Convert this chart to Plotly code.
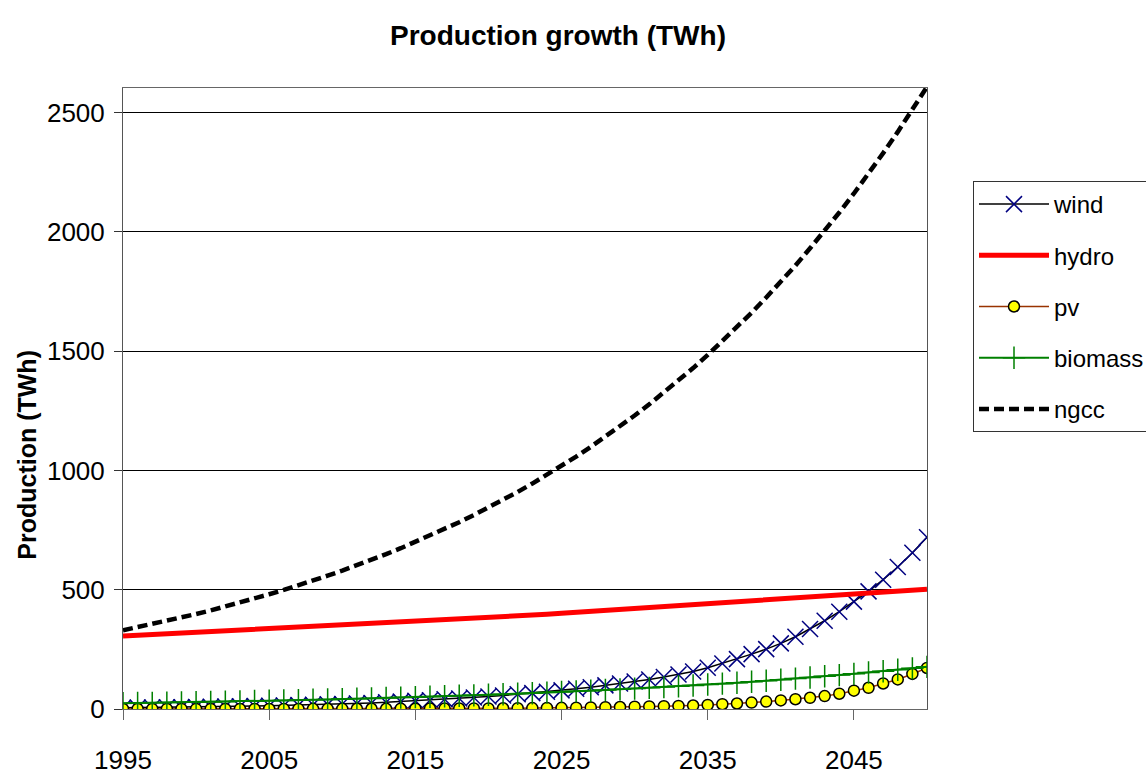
import plotly.graph_objects as go

# Years covered by the projection
years = list(range(1995, 2051))

# Annual production per technology (TWh)
wind = [5.3, 5.8, 6.4, 7.0, 7.7, 8.5, 9.3, 10.2, 11.2, 12.3,
        13.5, 14.8, 16.2, 17.7, 19.3, 21, 23, 25.5, 28, 31,
        34, 37, 40.5, 44, 48, 52, 56.5, 61.5, 66.5, 72,
        78, 84.5, 91.5, 99, 107, 115, 124, 134, 145, 157,
        173, 191, 209, 230, 251, 275, 303, 335, 370, 408,
        450, 493, 542, 595, 655, 720]

hydro = [306, 309, 312, 314, 317, 320, 323, 326, 329, 332,
         335, 338, 341, 344, 347, 350, 353, 357, 360, 363,
         366, 370, 373, 376, 380, 383, 387, 390, 394, 397,
         401, 405, 408, 412, 416, 419, 423, 427, 431, 435,
         439, 443, 447, 451, 455, 459, 463, 467, 471, 476,
         480, 484, 489, 493, 498, 502]

pv = [0.1, 0.1, 0.1, 0.2, 0.2, 0.2, 0.3, 0.3, 0.3, 0.4,
      0.4, 0.5, 0.5, 0.6, 0.7, 0.8, 0.9, 1.0, 1.1, 1.2,
      1.4, 1.6, 1.8, 2.0, 2.3, 2.6, 3.0, 3.4, 3.9, 4.4,
      5.0, 5.7, 6.5, 7.4, 8.4, 9.5, 10.7, 12, 13, 14.5,
      17, 20, 23, 27, 31, 36, 41, 47, 54, 64,
      77, 89, 107, 124, 147, 172]

biomass = [24.0, 24.9, 25.8, 26.8, 27.8, 28.8, 29.8, 30.9, 32.1, 33.3,
           34.5, 35.8, 37.1, 38.5, 39.9, 41.4, 42.9, 44.5, 46.1, 47.8,
           49.6, 51.4, 53.3, 55.3, 57.3, 59.5, 61.7, 63.9, 66.3, 68.7,
           71.3, 73.9, 76.6, 79.5, 82.4, 85.5, 88.6, 91.9, 95.3, 98.8,
           102.5, 106.3, 110.2, 114.3, 118.5, 122.9, 127.4, 132.1, 137.0, 142.1,
           147.4, 152.8, 158.5, 164.3, 170.4, 176.7]

ngcc = [330, 343, 356, 369, 384, 398, 413, 429, 446, 463,
        481, 499, 518, 538, 559, 580, 602, 625, 649, 674,
        700, 727, 754, 783, 813, 844, 877, 910, 945, 981,
        1019, 1058, 1099, 1141, 1184, 1230, 1277, 1326, 1376, 1429,
        1484, 1541, 1600, 1661, 1725, 1791, 1859, 1931, 2004, 2081,
        2161, 2244, 2330, 2419, 2512, 2608]

x_ticks = [1995, 2005, 2015, 2025, 2035, 2045]
y_ticks = [0, 500, 1000, 1500, 2000, 2500]

FONT = "Liberation Sans, Arial, sans-serif"

fig = go.Figure()

fig.add_trace(go.Scatter(
    x=years, y=wind, name="wind", mode="lines+markers", legendgroup="wind",
    line=dict(color="black", width=1.5),
    marker=dict(symbol="x-thin-open", size=16, color="#000080",
                line=dict(color="#000080", width=1.5)),
))
fig.add_trace(go.Scatter(
    x=years, y=hydro, name="hydro", mode="lines", legendgroup="hydro",
    line=dict(color="#ff0000", width=5),
))
fig.add_trace(go.Scatter(
    x=years, y=pv, name="pv", mode="lines+markers", legendgroup="pv",
    line=dict(color="#993300", width=1.5),
    marker=dict(symbol="circle", size=11, color="#ffff00",
                line=dict(color="black", width=1.5)),
))
fig.add_trace(go.Scatter(
    x=years, y=biomass, name="biomass", mode="lines+markers", legendgroup="biomass",
    line=dict(color="#008000", width=2),
    marker=dict(symbol="cross-thin-open", size=16, color="#008000",
                line=dict(color="#008000", width=1.5)),
))
fig.add_trace(go.Scatter(
    x=years, y=ngcc, name="ngcc", mode="lines", legendgroup="ngcc",
    line=dict(color="black", width=4.5, dash="10px,5px"),
))

# Vertical axis title, placed as a rotated label left of the tick labels
fig.add_annotation(
    text="<b>Production (TWh)</b>", textangle=-90,
    xref="paper", yref="paper", x=-0.119, y=0.41,
    xanchor="center", yanchor="middle", showarrow=False,
    font=dict(family=FONT, size=25, color="black"),
)

fig.update_layout(
    width=1146, height=776,
    margin=dict(l=123, r=219, t=88, b=67),
    paper_bgcolor="white", plot_bgcolor="white",
    font=dict(family=FONT, size=26, color="black"),
    title=dict(text="<b>Production growth (TWh)</b>", x=558 / 1146, xref="container",
               xanchor="center", y=1 - 35 / 776, yref="container", yanchor="middle",
               font=dict(family=FONT, size=28, color="black")),
    showlegend=True,
    legend=dict(xref="container", yref="container", x=973 / 1146, y=1 - 181 / 776,
                xanchor="left", yanchor="top", bordercolor="#333333", borderwidth=1,
                bgcolor="white", font=dict(family=FONT, size=24, color="black"),
                itemwidth=70, tracegroupgap=17, traceorder="grouped"),
    xaxis=dict(range=[1995, 2050], tickmode="array", tickvals=x_ticks,
               ticktext=[str(v) for v in x_ticks], ticks="outside", ticklen=10,
               tickcolor="#666666", showgrid=False, zeroline=False,
               showline=True, linecolor="#666666", linewidth=1, mirror=True,
               tickfont=dict(family=FONT, size=26), ticklabelstandoff=18,
               automargin=False),
    yaxis=dict(range=[0, 2603], tickmode="array", tickvals=y_ticks,
               ticks="outside", ticklen=8, tickcolor="#333333",
               showgrid=True, gridcolor="black", gridwidth=1, zeroline=False,
               showline=True, linecolor="#555555", linewidth=1, mirror=True,
               tickfont=dict(family=FONT, size=26), ticklabelstandoff=4,
               automargin=False),
)

fig.write_html("out.html")
